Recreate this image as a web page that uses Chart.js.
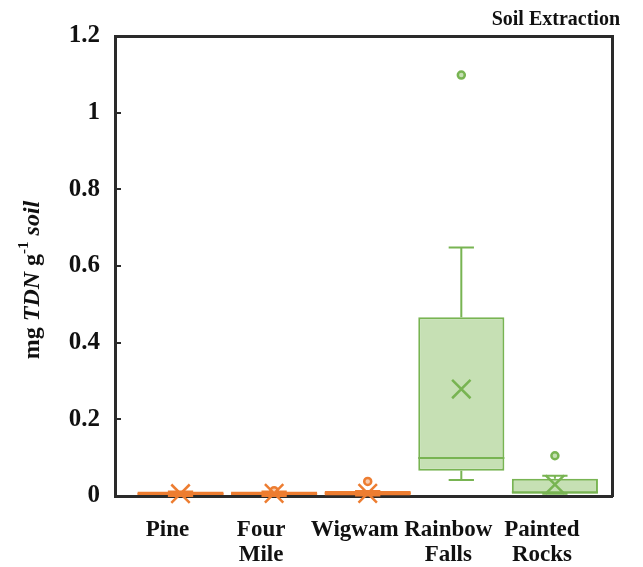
<!DOCTYPE html>
<html>
<head>
<meta charset="utf-8">
<title>Soil Extraction</title>
<script src="https://cdn.jsdelivr.net/npm/chart.js@4.4.1/dist/chart.umd.min.js"></script>
<style>
    html, body { margin: 0; padding: 0; background: #fff; }
    #wrap { width: 643px; height: 567px; }
</style>
</head>
<body>
<div id="wrap"><canvas id="soilChart"></canvas></div>
<script>
// ==========================
// Data (mg TDN per g soil)
// ==========================

const sites = [["Pine"], ["Four", "Mile"], ["Wigwam"], ["Rainbow", "Falls"], ["Painted", "Rocks"]];

const whiskerLow  = [0.000, 0.000, 0.001, 0.042, 0.006];
const q1          = [0.000, 0.000, 0.001, 0.066, 0.006];
const median      = [0.006, 0.006, 0.007, 0.099, 0.010];
const q3          = [0.012, 0.012, 0.013, 0.466, 0.045];
const whiskerHigh = [0.012, 0.012, 0.013, 0.648, 0.053];
const means       = [0.006, 0.007, 0.007, 0.279, 0.030];
const outliers    = [[], [0.014], [0.038], [1.098], [0.105]];

const yTicks = [0, 0.2, 0.4, 0.6, 0.8, 1, 1.2];
const yTickLabels = ["0", "0.2", "0.4", "0.6", "0.8", "1", "1.2"];

// ==========================
// Styles
// ==========================

const ORANGE = "#ED7D31";
const ORANGE_FILL = "#F8CBAD";
const GREEN = "#78B452";
const GREEN_FILL = "#C6E0B4";
const FRAME = "#2a2a2a";
const SERIF = "'Liberation Serif', 'Times New Roman', serif";

const siteColors = [ORANGE, ORANGE, ORANGE, GREEN, GREEN];
const siteFills = [ORANGE_FILL, ORANGE_FILL, ORANGE_FILL, GREEN_FILL, GREEN_FILL];

const CAP_HALF = 0.135;
const BOX_HALF = 0.46;

// whisker + cap + median segments for one site, broken by null gaps
function whiskerPoints(i) {
    const c = i + 1;
    return [
        { x: c - CAP_HALF, y: whiskerHigh[i] }, { x: c + CAP_HALF, y: whiskerHigh[i] }, { x: c, y: null },
        { x: c, y: whiskerHigh[i] }, { x: c, y: q3[i] }, { x: c, y: null },
        { x: c, y: q1[i] }, { x: c, y: whiskerLow[i] }, { x: c, y: null },
        { x: c - CAP_HALF, y: whiskerLow[i] }, { x: c + CAP_HALF, y: whiskerLow[i] }, { x: c, y: null },
        { x: c - BOX_HALF, y: median[i] }, { x: c + BOX_HALF, y: median[i] }
    ];
}

const datasets = [];

datasets.push({
    type: "scatter",
    order: 1,
    clip: false,
    data: sites.map((s, i) => ({ x: i + 1, y: means[i] })),
    pointStyle: "crossRot",
    pointRadius: 13,
    pointBorderWidth: 2.5,
    pointBorderColor: siteColors,
    pointBackgroundColor: siteColors
});

datasets.push({
    type: "scatter",
    order: 1,
    clip: false,
    data: outliers.flatMap((vals, i) => vals.map(v => ({ x: i + 1, y: v }))),
    pointStyle: "circle",
    pointRadius: 3.5,
    pointBorderWidth: 2.5,
    pointBorderColor: ctx => siteColors[Math.round(ctx.raw.x) - 1],
    pointBackgroundColor: ctx => siteFills[Math.round(ctx.raw.x) - 1]
});

sites.forEach((s, i) => {
    datasets.push({
        type: "line",
        order: 2,
        clip: false,
        data: whiskerPoints(i),
        borderColor: siteColors[i],
        borderWidth: 2,
        pointRadius: 0,
        spanGaps: false,
        fill: false
    });
});

datasets.push({
    type: "bar",
    order: 3,
    clip: false,
    data: sites.map((s, i) => ({ x: i + 1, y: [q1[i], q3[i]] })),
    backgroundColor: siteFills,
    borderColor: siteColors,
    borderWidth: 2,
    borderSkipped: false,
    barPercentage: 0.92,
    categoryPercentage: 1,
    grouped: false
});

// ==========================
// Y axis title (mixed styles)
// ==========================

const yTitlePlugin = {
    id: "yTitle",
    afterDraw(chart) {
        const ctx = chart.ctx;
        const parts = [
            { t: "mg ", f: "bold 24px " + SERIF, dy: 0 },
            { t: "TDN", f: "italic bold 24px " + SERIF, dy: 0 },
            { t: " g", f: "bold 24px " + SERIF, dy: 0 },
            { t: "-1", f: "bold 15px " + SERIF, dy: -9 },
            { t: " soil", f: "italic bold 24px " + SERIF, dy: 0 }
        ];
        ctx.save();
        let total = 0;
        parts.forEach(p => { ctx.font = p.f; p.w = ctx.measureText(p.t).width; total += p.w; });
        ctx.translate(33, 280);
        ctx.rotate(-Math.PI / 2);
        ctx.fillStyle = "#111";
        ctx.textBaseline = "middle";
        ctx.textAlign = "left";
        let x = -total / 2;
        parts.forEach(p => {
            ctx.font = p.f;
            ctx.fillText(p.t, x, p.dy);
            x += p.w;
        });
        ctx.restore();
    }
};

// ==========================
// Chart
// ==========================

new Chart(document.getElementById("soilChart"), {
    type: "bar",
    data: { datasets: datasets },
    plugins: [yTitlePlugin],
    options: {
        responsive: true,
        maintainAspectRatio: false,
        devicePixelRatio: 1,
        animation: false,
        layout: { padding: { top: 0, right: 23, bottom: 0, left: 0 } },
        plugins: {
            legend: { display: false },
            tooltip: { enabled: false },
            title: {
                display: true,
                text: "Soil Extraction",
                align: "end",
                color: "#111",
                font: { family: SERIF, size: 20, weight: "bold", lineHeight: 1.2 },
                padding: { top: 5, bottom: 4 }
            }
        },
        scales: {
            x: {
                type: "linear",
                position: "bottom",
                offset: false,
                min: 0.3,
                max: 5.61,
                afterBuildTicks: s => { s.ticks = sites.map((c, i) => ({ value: i + 1 })); },
                afterFit: s => { s.height = 71; },
                grid: { display: false, drawTicks: false, offset: false },
                border: { display: true, color: FRAME, width: 3 },
                ticks: {
                    autoSkip: false,
                    maxRotation: 0,
                    padding: 21,
                    labelOffset: -13,
                    color: "#111",
                    font: { family: SERIF, size: 23, weight: "bold", lineHeight: 1.1 },
                    callback: v => sites[Math.round(v) - 1]
                }
            },
            x2: {
                type: "linear",
                position: "top",
                offset: false,
                min: 0.3,
                max: 5.61,
                afterFit: s => { s.height = 0; },
                grid: { drawOnChartArea: false, drawTicks: false },
                border: { display: true, color: FRAME, width: 3 },
                ticks: { display: false }
            },
            y: {
                min: 0,
                max: 1.2,
                afterBuildTicks: s => { s.ticks = yTicks.map(v => ({ value: v })); },
                afterFit: s => { s.width = 115; },
                grid: { drawOnChartArea: false, drawTicks: true, tickLength: -6, color: FRAME, lineWidth: 2 },
                border: { display: true, color: FRAME, width: 3 },
                ticks: {
                    padding: 21,
                    color: "#111",
                    font: { family: SERIF, size: 25, weight: "bold" },
                    callback: (v, i) => yTickLabels[i]
                }
            },
            y2: {
                position: "right",
                min: 0,
                max: 1.2,
                afterFit: s => { s.width = 8; },
                grid: { drawOnChartArea: false, drawTicks: false },
                border: { display: true, color: FRAME, width: 3 },
                ticks: { display: false }
            }
        }
    }
});
</script>
</body>
</html>
